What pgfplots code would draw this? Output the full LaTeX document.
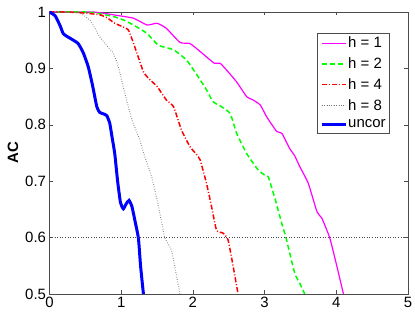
\documentclass[border=0pt]{standalone}
\usepackage{pgfplots}
\pgfplotsset{compat=1.18}
\usepackage{fontspec}
\setmainfont{Liberation Sans}
\definecolor{mmag}{rgb}{1,0,1}
\definecolor{mgreen}{rgb}{0,1,0}
\definecolor{mred}{rgb}{1,0,0}
\definecolor{mblue}{rgb}{0,0,1}
\begin{document}
\begin{tikzpicture}
\begin{axis}[
  width=358.5bp, height=282bp, scale only axis,
  xmin=0, xmax=5, ymin=0.5, ymax=1,
  xtick={0,1,2,3,4,5}, ytick={0.5,0.6,0.7,0.8,0.9,1},
  /pgf/number format/assume math mode=true,
  tick label style={font=\fontsize{15}{18}\selectfont},
  ylabel={\textbf{AC}},
  ylabel style={font=\fontsize{15}{18}\selectfont},
  axis line style={black!70, line width=0.5bp},
  major tick style={black!70, line width=0.5bp},
  major tick length=3.5bp,
  tick align=inside,
  xtick pos=both, ytick pos=both,
  clip=true,
  legend style={at={(0.948,0.9245)}, anchor=north east, draw=black!70, line width=0.5bp,
    font=\fontsize{15}{18}\selectfont, inner sep=2.5bp, row sep=6.4bp,
    nodes={inner xsep=1bp, inner ysep=1bp}},
  legend cell align=left,
  legend image code/.code={\draw[#1] plot coordinates {(0bp,0bp) (12bp,0bp) (24bp,0bp)};},
]
\addplot[draw=mmag, line width=1.2bp, smooth, tension=0.3] coordinates {
(0,1) (0.61,1) (0.89,0.995) (1.17,0.989) (1.36,0.977) (1.50,0.980) (1.63,0.971) (1.82,0.946) (1.96,0.944) (2.10,0.930) (2.24,0.915) (2.30,0.909) (2.38,0.909) (2.47,0.897) (2.61,0.876) (2.75,0.850) (2.84,0.844) (2.94,0.835) (3.03,0.814) (3.17,0.788) (3.24,0.785) (3.35,0.758) (3.42,0.745) (3.49,0.726) (3.61,0.696) (3.73,0.646) (3.80,0.634) (3.91,0.599) (4.01,0.548) (4.10,0.5)
};
\addlegendentry{h = 1}
\addplot[draw=mgreen, line width=1.5bp, dash pattern=on 5bp off 3bp, smooth, tension=0.3] coordinates {
(0,1) (0.5,1) (0.66,0.998) (0.89,0.992) (1.03,0.986) (1.17,0.977) (1.36,0.962) (1.52,0.941) (1.73,0.933) (1.91,0.915) (2.01,0.897) (2.10,0.880) (2.19,0.862) (2.28,0.841) (2.40,0.832) (2.52,0.820) (2.61,0.785) (2.75,0.749) (2.91,0.720) (3.01,0.710) (3.05,0.708) (3.15,0.667) (3.24,0.625) (3.30,0.599) (3.42,0.537) (3.49,0.519) (3.56,0.5)
};
\addlegendentry{h = 2}
\addplot[draw=mred, line width=1.5bp, dash pattern=on 5bp off 2bp on 1bp off 2bp, smooth, tension=0.3] coordinates {
(0,1) (0.24,1) (0.5,0.998) (0.70,0.995) (0.80,0.99) (0.91,0.98) (1.00,0.975) (1.10,0.968) (1.19,0.938) (1.31,0.894) (1.40,0.88) (1.50,0.868) (1.63,0.844) (1.73,0.832) (1.84,0.791) (1.96,0.761) (2.04,0.749) (2.10,0.738) (2.19,0.696) (2.26,0.655) (2.33,0.613) (2.42,0.608) (2.49,0.596) (2.56,0.55) (2.63,0.5)
};
\addlegendentry{h = 4}
\addplot[draw=black!55, line width=1bp, dash pattern=on 0.6bp off 1.8bp, smooth, tension=0.3] coordinates {
(0,1) (0.3,1) (0.43,0.998) (0.56,0.986) (0.63,0.972) (0.70,0.956) (0.80,0.940) (0.89,0.927) (0.96,0.903) (1.05,0.856) (1.15,0.809) (1.26,0.773) (1.33,0.743) (1.42,0.71) (1.50,0.667) (1.56,0.63) (1.61,0.599) (1.70,0.578) (1.76,0.54) (1.82,0.5)
};
\addlegendentry{h = 8}
\addplot[draw=mblue, line width=3bp, smooth, tension=0.3] coordinates {
(0,1) (0.08,0.993) (0.15,0.975) (0.19,0.962) (0.24,0.957) (0.32,0.951) (0.40,0.944) (0.47,0.928) (0.54,0.903) (0.60,0.87) (0.66,0.832) (0.70,0.822) (0.76,0.819) (0.80,0.816) (0.84,0.803) (0.87,0.78) (0.91,0.749) (0.95,0.70) (0.99,0.662) (1.03,0.651) (1.07,0.660) (1.11,0.666) (1.15,0.655) (1.19,0.631) (1.24,0.599) (1.27,0.55) (1.31,0.5)
};
\addlegendentry{uncor}
\addplot[draw=black!70, line width=0.6bp, dash pattern=on 0.6bp off 2bp, forget plot] coordinates {(0,0.6) (5,0.6)};
\end{axis}
\pgfresetboundingbox
\path[use as bounding box] ([xshift=-49.5bp,yshift=-22bp]current axis.south west) rectangle ([xshift=7bp,yshift=12bp]current axis.north east);
\end{tikzpicture}
\end{document}
